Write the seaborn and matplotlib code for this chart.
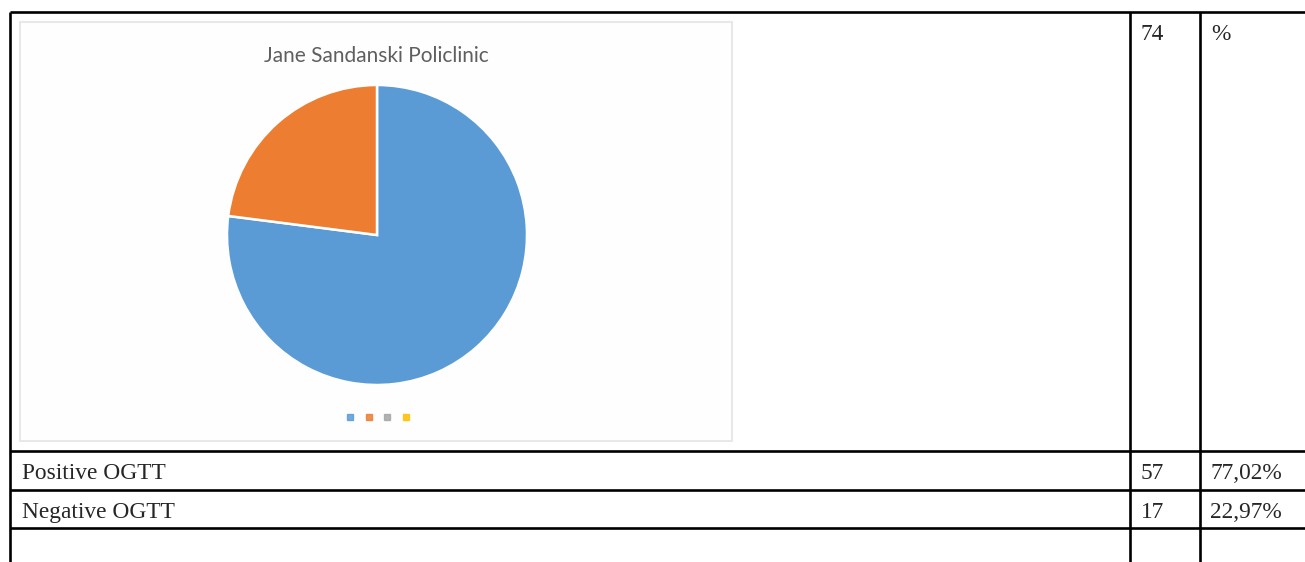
import matplotlib
matplotlib.use("Agg")
import matplotlib.pyplot as plt
from matplotlib.lines import Line2D
from matplotlib.patches import Rectangle
import seaborn as sns

# Table contents
total = 74
row_labels = ["Positive OGTT", "Negative OGTT"]
counts = [57, 17]
percent_labels = ["77,02%", "22,97%"]
chart_title = "Jane Sandanski Policlinic"

# Office-style series colours (four legend entries, two non-empty slices)
legend_colors = ["#5B9BD5", "#ED7D31", "#A5A5A5", "#FFC000"]

sns.set_style("white")
plt.rcParams["font.family"] = ["Liberation Serif", "DejaVu Serif"]

W, H = 1305, 562
fig = plt.figure(figsize=(W / 100, H / 100), dpi=100)
fig.patch.set_facecolor("white")

# Page axes in pixel units for the table grid and text
page = fig.add_axes([0, 0, 1, 1])
page.set_xlim(0, W)
page.set_ylim(H, 0)
page.axis("off")

lw = 1.9
x_left, x_col1, x_col2 = 10, 1130, 1200
row_lines = [12, 451, 490, 528]
for y in row_lines:
    page.plot([x_left, W], [y, y], color="black", lw=lw, solid_capstyle="butt")
for x in (x_left, x_col1, x_col2):
    page.plot([x, x], [row_lines[0], H], color="black", lw=lw, solid_capstyle="butt")

# Embedded chart frame
page.add_patch(Rectangle((20, 22), 712, 419, facecolor="#fefefe",
                         edgecolor="#e8e8e8", lw=1.5))

fs = 16.8
page.text(1141, 40, str(total), fontsize=fs, va="baseline", ha="left")
page.text(1211, 40, "%", fontsize=fs, va="baseline", ha="left")
baselines = [479, 518]
for lab, n, p, yb in zip(row_labels, counts, percent_labels, baselines):
    page.text(22, yb, lab, fontsize=fs, va="baseline", ha="left")
    page.text(1141, yb, str(n), fontsize=fs, va="baseline", ha="left")
    page.text(1210, yb, p, fontsize=fs, va="baseline", ha="left")

page.text(376, 56, chart_title, fontsize=15, color="#5f5f5f",
          family=["Lato", "DejaVu Sans"], ha="center", va="center")

# Pie chart
cx, cy, r = 377, 235, 150
pie_ax = fig.add_axes([(cx - r) / W, (H - cy - r) / H, 2 * r / W, 2 * r / H])
pie_ax.pie(counts, colors=legend_colors[:len(counts)], startangle=90,
           counterclock=False,
           wedgeprops=dict(edgecolor="white", linewidth=1.8))
pie_ax.set_xlim(-1.0, 1.0)
pie_ax.set_ylim(-1.0, 1.0)
pie_ax.set_aspect("equal")
pie_ax.axis("off")

handles = [Line2D([], [], marker="s", linestyle="", markersize=3.8,
                  markerfacecolor=c, markeredgecolor=c, alpha=0.85)
           for c in legend_colors]
fig.legend(handles, [""] * len(handles), loc="center",
           bbox_to_anchor=(378 / W, 1 - 418 / H), ncol=4, frameon=False,
           fontsize=8, handlelength=0.7, handletextpad=0.0,
           columnspacing=1.0, borderpad=0)

fig.savefig("out.png", dpi=100, facecolor="white")
